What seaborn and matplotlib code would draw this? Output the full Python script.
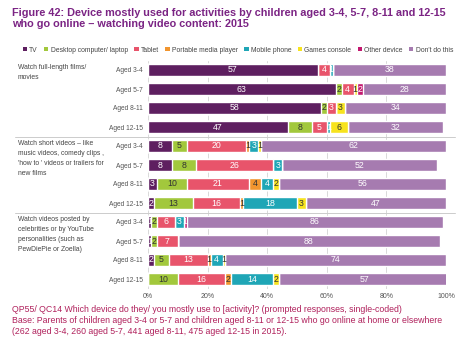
import pandas as pd
import numpy as np
import seaborn as sns
import matplotlib.pyplot as plt
from matplotlib.patches import Patch
from matplotlib.lines import Line2D
from matplotlib.transforms import blended_transform_factory

# Data (percent of each age group)
devices = ['TV', 'Desktop computer/ laptop', 'Tablet', 'Portable media player',
           'Mobile phone', 'Games console', 'Other device', "Don't do this"]
ages = ['Aged 3-4', 'Aged 5-7', 'Aged 8-11', 'Aged 12-15']
activities = ['Watch full-length films/\nmovies',
              "Watch short videos \u2013 like\nmusic videos, comedy clips ,\n'how to ' videos or trailers for\nnew films",
              'Watch videos posted by\ncelebrities or by YouTube\npersonalities (such as\nPewDiePie or Zoella)']

tv       = [57, 63, 58, 47,  8,  8,  3,  2,  1,  1,  2,  0]
desktop  = [ 0,  2,  2,  8,  5,  8, 10, 13,  2,  2,  5, 10]
tablet   = [ 4,  4,  3,  5, 20, 26, 21, 16,  6,  7, 13, 16]
pmp      = [ 0,  0,  0,  0,  1,  0,  4,  1,  0,  0,  1,  2]
mobile   = [ 1,  0,  0,  1,  3,  3,  4, 18,  3,  0,  4, 14]
console  = [ 0,  1,  3,  6,  1,  0,  2,  3,  0,  0,  1,  2]
other    = [ 0,  2,  0,  0,  0,  0,  0,  0,  1,  0,  0,  0]
dont     = [38, 28, 34, 32, 62, 52, 56, 47, 86, 88, 74, 57]

colors = ['#5e1f60', '#a2c83c', '#e8546b', '#f1952e',
          '#1fa6b6', '#f7e31e', '#c3186f', '#a67bb0']
text_colors = ['white', '#333333', 'white', '#333333',
               'white', '#333333', 'white', 'white']

rows = [f'r{i}' for i in range(12)]
df = pd.DataFrame(dict(zip(devices, [tv, desktop, tablet, pmp, mobile, console, other, dont])))
df['row'] = rows
cum = df[devices].cumsum(axis=1)

sns.set_style('white')
plt.rcParams['font.family'] = ['Liberation Sans', 'DejaVu Sans']

fig = plt.figure(figsize=(4.67, 3.5), dpi=100)
ax = fig.add_axes([148 / 467, 1 - 288.5 / 350, 298 / 467, 228 / 350])

# stacked bars: draw cumulative totals from last to first
for i in range(len(devices) - 1, -1, -1):
    sns.barplot(x=cum[devices[i]], y=df['row'], order=rows, orient='h',
                color=colors[i], saturation=1, width=0.6, ax=ax, zorder=2)

for r in range(12):
    left = 0
    for i, d in enumerate(devices):
        v = df[d].iloc[r]
        if v > 0:
            ax.text(left + v / 2, r, str(v), ha='center', va='center',
                    fontsize=6.3, color=text_colors[i], zorder=3)
        left += v

ax.set_xlim(0, 100)
ax.set_ylim(11.5, -0.5)
ax.set_xticks(range(0, 101, 20))
ax.set_xticklabels([f'{t}%' for t in range(0, 101, 20)], fontsize=5, color='#555555')
ax.set_yticks(range(12))
ax.set_yticklabels(ages * 3, fontsize=4.8, color='#555555')
ax.tick_params(length=0, pad=3.5)
ax.set_xlabel('')
ax.set_ylabel('')
ax.grid(axis='x', color='#d9d9d9', linewidth=0.7, zorder=0)
ax.set_axisbelow(True)
for s in ax.spines.values():
    s.set_visible(False)

# group labels and separators
tr = blended_transform_factory(fig.transFigure, ax.transData)
for g, txt in enumerate(activities):
    ax.text(18 / 467, g * 4 - 0.3, txt, transform=tr,
            ha='left', va='top', fontsize=4.9, color='#444444', linespacing=1.55)
for y in [3.5, 7.5]:
    fig.add_artist(Line2D([15 / 467, 455 / 467], [y, y], transform=tr,
                          color='#cccccc', linewidth=0.7))

fig.text(12 / 467, 1 - 8 / 350,
         'Figure 42: Device mostly used for activities by children aged 3-4, 5-7, 8-11 and 12-15\n'
         'who go online \u2013 watching video content: 2015',
         ha='left', va='top', fontsize=7.85, fontweight='bold', color='#7b2484', linespacing=1.1)

handles = [Patch(facecolor=c, edgecolor='none') for c in colors]
fig.legend(handles, devices, loc='center', bbox_to_anchor=(238 / 467, 1 - 50 / 350), ncol=8,
           frameon=False, fontsize=4.9, handlelength=0.6, handleheight=0.6,
           handletextpad=0.35, columnspacing=0.95, labelcolor='#444444')

fig.text(12 / 467, 1 - 305 / 350,
         'QP55/ QC14 Which device do they/ you mostly use to [activity]? (prompted responses, single-coded)\n'
         'Base: Parents of children aged 3-4 or 5-7 and children aged 8-11 or 12-15 who go online at home or elsewhere\n'
         '(262 aged 3-4, 260 aged 5-7, 441 aged 8-11, 475 aged 12-15 in 2015).',
         ha='left', va='top', fontsize=6.3, color='#b0215c', linespacing=1.3)

fig.savefig('out.png', dpi=100)
